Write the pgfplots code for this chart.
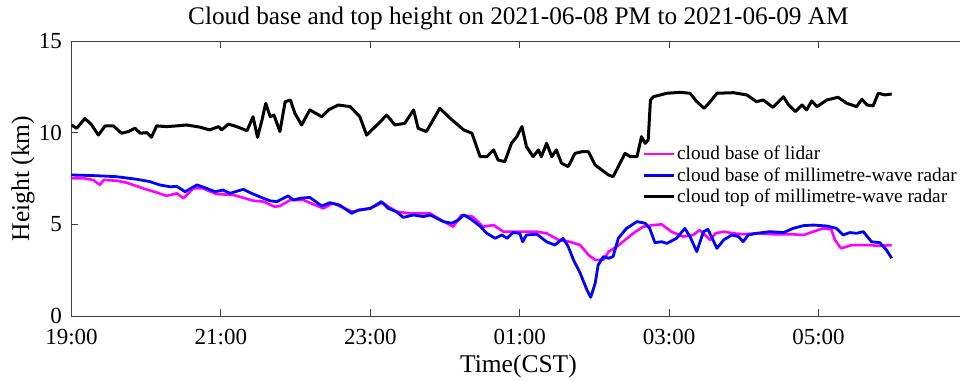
\documentclass[border=0pt]{standalone}
\usepackage{pgfplots}
\pgfplotsset{compat=1.18}
\usepackage{fontspec}
\setmainfont{Liberation Serif}
\definecolor{lidar}{RGB}{255,0,255}
\definecolor{mmblue}{RGB}{0,0,255}
\begin{document}
\begin{tikzpicture}
\begin{axis}[
  scale only axis,
  width=888.5pt, height=275pt,
  xmin=0, xmax=11.894, ymin=0, ymax=15,
  axis x line*=box, axis y line*=left,
  axis line style={black!75, line width=0.9pt},
  xtick={0,2,4,6,8,10},
  xticklabels={19:00,21:00,23:00,01:00,03:00,05:00},
  ytick={0,5,10,15},
  tick align=inside,
  major tick length=7pt,
  tick style={black!75, line width=0.9pt},
  /pgf/number format/assume math mode=true,
  xticklabel style={font=\rmfamily\fontsize{23}{27}\selectfont, anchor=north, inner sep=0pt, yshift=-13pt},
  yticklabel style={font=\rmfamily\fontsize{23}{27}\selectfont, anchor=east, inner sep=0pt, xshift=-9.5pt},
  title={Cloud base and top height on 2021-06-08 PM to 2021-06-09 AM},
  title style={font=\rmfamily\fontsize{25.3}{30}\selectfont, at={(rel axis cs:0.503,1)}, anchor=base, yshift=10pt},
  xlabel={Time(CST)},
  xlabel style={font=\rmfamily\fontsize{25.5}{30}\selectfont, at={(axis description cs:0.503,0)}, anchor=base, yshift=-56pt},
  ylabel={Height (km)},
  ylabel style={font=\rmfamily\fontsize{25.5}{30}\selectfont, at={(axis description cs:-0.0546,0.5)}, anchor=center},
  legend style={at={(rel axis cs:0.6425,0.623)}, anchor=north west, draw=none, fill=none,
    font=\rmfamily\fontsize{19.3}{22}\selectfont, inner sep=0pt, row sep=3.3pt,
    nodes={inner sep=1.5pt}},
  legend cell align=left,
  legend image code/.code={\draw[#1] (0pt,0pt) -- (30pt,0pt);},
  every axis plot/.append style={line join=round},
]
\addplot[lidar, line width=2.6pt] coordinates {
(0,7.51) (0.16,7.51) (0.29,7.42) (0.38,7.15) (0.43,7.42) (0.60,7.38) (0.74,7.27) (0.96,6.96)
(1.14,6.74) (1.27,6.55) (1.41,6.69) (1.50,6.42) (1.63,6.96) (1.76,6.96) (1.94,6.65) (2.17,6.6)
(2.28,6.47) (2.43,6.29) (2.57,6.24) (2.72,5.96) (2.79,6.0) (2.93,6.33) (3.10,6.33) (3.37,5.87)
(3.50,6.15) (3.76,5.69) (4.0,5.87) (4.16,6.18) (4.35,5.69) (4.53,5.6) (4.80,5.6) (4.98,5.15)
(5.11,4.87) (5.22,5.51) (5.37,5.42) (5.51,4.87) (5.65,4.96) (5.78,4.6) (5.96,4.6) (6.23,4.6)
(6.36,4.51) (6.52,4.15) (6.67,4.05) (6.81,3.87) (6.92,3.33) (7.01,3.06) (7.12,3.06) (7.19,3.51)
(7.30,3.78) (7.38,4.05) (7.52,4.51) (7.65,4.87) (7.79,4.96) (7.90,5.0) (8.03,4.6) (8.19,4.33)
(8.32,4.42) (8.41,4.69) (8.55,4.15) (8.62,4.51) (8.73,4.6) (8.86,4.51) (8.99,4.46) (9.17,4.51)
(9.39,4.46) (9.62,4.46) (9.80,4.42) (9.93,4.6) (10.06,4.78) (10.17,4.73) (10.22,4.15) (10.30,3.69)
(10.45,3.87) (10.67,3.87) (10.82,3.82) (10.98,3.87)
};
\addlegendentry{cloud base of lidar}
\addplot[mmblue, line width=2.8pt] coordinates {
(0,7.69) (0.29,7.66) (0.60,7.60) (0.87,7.46) (1.05,7.33) (1.18,7.15) (1.32,7.05) (1.41,7.07)
(1.52,6.78) (1.68,7.15) (1.81,6.96) (1.92,6.78) (2.03,6.87) (2.12,6.69) (2.30,6.91) (2.41,6.69)
(2.57,6.42) (2.66,6.28) (2.75,6.24) (2.90,6.55) (2.97,6.33) (3.06,6.42) (3.19,6.47) (3.35,6.0)
(3.46,6.18) (3.59,6.05) (3.75,5.6) (3.84,5.78) (4.0,5.87) (4.15,6.24) (4.24,5.87) (4.35,5.69)
(4.44,5.38) (4.58,5.51) (4.71,5.42) (4.80,5.51) (4.89,5.33) (4.98,5.15) (5.09,5.06) (5.18,5.24)
(5.25,5.51) (5.33,5.33) (5.47,4.9) (5.56,4.51) (5.67,4.24) (5.76,4.42) (5.83,4.24) (5.91,4.55)
(6.0,4.51) (6.04,4.05) (6.09,4.42) (6.23,4.46) (6.36,4.05) (6.47,3.87) (6.58,4.24) (6.65,3.78)
(6.72,3.06) (6.81,2.33) (6.90,1.42) (6.95,1.02) (7.01,1.78) (7.05,2.78) (7.12,3.24) (7.19,3.15)
(7.25,3.24) (7.32,4.24) (7.43,4.78) (7.57,5.15) (7.68,5.06) (7.74,4.78) (7.81,4.0) (7.90,4.05)
(7.97,3.96) (8.10,4.24) (8.21,4.78) (8.28,4.33) (8.37,3.51) (8.46,4.6) (8.52,4.73) (8.64,3.69)
(8.73,4.15) (8.84,4.42) (8.93,4.33) (8.99,4.05) (9.06,4.42) (9.17,4.51) (9.35,4.6) (9.53,4.55)
(9.66,4.78) (9.80,4.93) (9.93,4.96) (10.11,4.91) (10.24,4.78) (10.33,4.42) (10.42,4.55) (10.51,4.51)
(10.60,4.6) (10.71,4.05) (10.82,4.0) (10.91,3.6) (10.98,3.15)
};
\addlegendentry{cloud base of millimetre-wave radar}
\addplot[black, line width=3pt] coordinates {
(0,10.42) (0.07,10.24) (0.18,10.78) (0.27,10.42) (0.36,9.87) (0.45,10.37) (0.56,10.37) (0.67,9.97)
(0.76,10.06) (0.85,10.24) (0.92,9.97) (1.01,10.0) (1.07,9.75) (1.14,10.37) (1.27,10.33) (1.41,10.37)
(1.54,10.42) (1.72,10.3) (1.85,10.15) (1.97,10.33) (2.01,10.15) (2.10,10.47) (2.21,10.33) (2.35,10.11)
(2.43,10.87) (2.49,9.75) (2.55,10.69) (2.60,11.60) (2.66,10.87) (2.71,10.96) (2.79,10.06) (2.86,11.69)
(2.93,11.78) (2.99,11.06) (3.08,10.42) (3.19,11.24) (3.35,10.87) (3.44,11.24) (3.57,11.51) (3.73,11.42)
(3.86,10.87) (3.95,9.87) (4.09,10.42) (4.22,10.96) (4.33,10.42) (4.46,10.51) (4.58,11.24) (4.64,10.24)
(4.75,10.06) (4.84,10.69) (4.93,11.33) (5.07,10.78) (5.25,10.15) (5.36,9.97) (5.47,8.69) (5.56,8.69)
(5.65,9.06) (5.71,8.51) (5.80,8.42) (5.89,9.42) (5.96,9.78) (6.03,10.33) (6.09,9.24) (6.18,8.69)
(6.25,9.06) (6.29,8.69) (6.36,9.42) (6.43,8.69) (6.49,9.06) (6.56,8.33) (6.65,8.15) (6.74,8.87)
(6.83,8.96) (6.92,8.96) (7.01,8.24) (7.10,7.96) (7.19,7.69) (7.25,7.60) (7.32,8.15) (7.41,8.87)
(7.48,8.69) (7.57,8.69) (7.63,9.78) (7.68,9.42) (7.72,9.6) (7.75,11.78) (7.79,11.96) (7.97,12.15)
(8.15,12.2) (8.28,12.15) (8.37,11.69) (8.47,11.33) (8.55,11.69) (8.64,12.15) (8.86,12.18) (9.04,12.06)
(9.17,11.69) (9.26,11.78) (9.39,11.38) (9.53,11.96) (9.60,11.51) (9.69,11.15) (9.78,11.51) (9.84,11.24)
(9.91,11.73) (9.98,11.42) (10.11,11.78) (10.26,11.93) (10.38,11.6) (10.51,11.42) (10.58,11.82) (10.65,11.51)
(10.73,11.46) (10.80,12.15) (10.89,12.06) (10.98,12.11)
};
\addlegendentry{cloud top of millimetre-wave radar}
\end{axis}
\pgfresetboundingbox
\path[use as bounding box] (-71.5pt,-64pt) rectangle (888.5pt,316pt);
\end{tikzpicture}
\end{document}
